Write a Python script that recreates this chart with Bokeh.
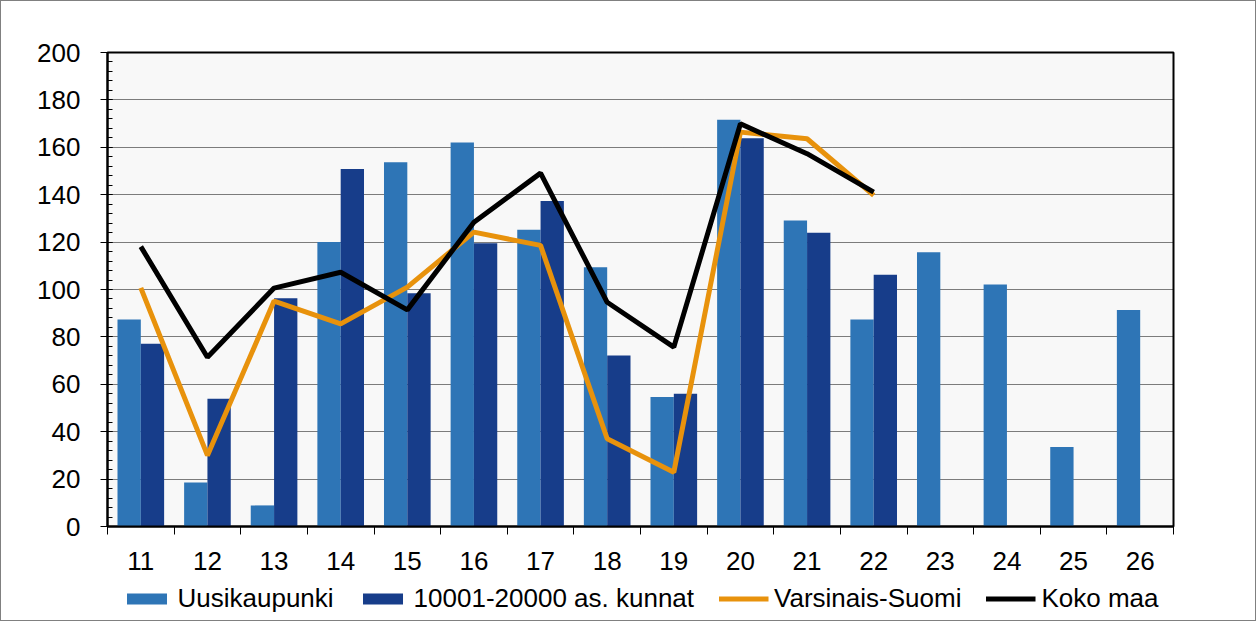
import numpy as np
from bokeh.plotting import figure
from bokeh.layouts import column
from bokeh.models import Range1d, FixedTicker, Legend, LegendItem
from bokeh.embed import file_html
from bokeh.resources import INLINE

categories = ["11", "12", "13", "14", "15", "16", "17", "18", "19", "20", "21", "22", "23", "24", "25", "26"]
uusikaupunki = [87.3, 18.6, 8.9, 120.0, 153.7, 162.0, 125.2, 109.4, 54.6, 171.6, 129.1, 87.3, 115.7, 102.1, 33.5, 91.3]
kunnat = [77.1, 53.9, 96.3, 150.8, 98.4, 119.5, 137.3, 72.2, 56.0, 163.8, 123.9, 106.2]
varsinais_suomi = [100.7, 30.0, 95.1, 85.5, 101.0, 124.2, 118.6, 37.0, 22.9, 166.4, 163.6, 139.7]
koko_maa = [118.1, 71.4, 100.6, 107.3, 91.4, 128.4, 149.1, 94.6, 75.7, 169.9, 157.3, 141.1]
y_ticks = list(range(0, 201, 20))
series_names = ["Uusikaupunki", "10001-20000 as. kunnat", "Varsinais-Suomi", "Koko maa"]

FONT = "Liberation Sans"
C_LIGHT, C_DARK, C_ORANGE, C_BLACK = "#2E75B6", "#173D8A", "#E8920C", "black"
n = len(categories)
centers = np.arange(n) + 0.5
bw = 0.35


def draw_series(fig):
    a = fig.vbar(x=centers - bw / 2, top=uusikaupunki, width=bw, fill_color=C_LIGHT, line_color=None)
    b = fig.vbar(x=centers[:len(kunnat)] + bw / 2, top=kunnat, width=bw, fill_color=C_DARK, line_color=None)
    c = fig.line(x=centers[:len(varsinais_suomi)], y=varsinais_suomi, line_color=C_ORANGE, line_width=5)
    d = fig.line(x=centers[:len(koko_maa)], y=koko_maa, line_color=C_BLACK, line_width=5)
    return [a, b, c, d]


p = figure(frame_width=1066, frame_height=474,
           x_range=Range1d(0, n), y_range=Range1d(0, 200),
           output_backend="svg", toolbar_location=None,
           min_border_left=106, min_border_top=51, min_border_right=82, min_border_bottom=50,
           background_fill_color="#F8F8F8", border_fill_color="white")
draw_series(p)

# y axis
ya = p.yaxis[0]
ya.ticker = FixedTicker(ticks=y_ticks, minor_ticks=list(range(0, 201, 4)))
ya.major_tick_in = 5
ya.major_tick_out = 7
ya.minor_tick_in = 5
ya.minor_tick_out = 0
ya.axis_line_width = 2
ya.axis_line_color = "black"
ya.major_tick_line_color = "black"
ya.minor_tick_line_color = "black"
ya.major_label_standoff = 20
ya.major_label_text_font = FONT
ya.major_label_text_font_size = "26px"
ya.major_label_text_color = "black"

# x axis: labels at category centres, ticks (minor) at category boundaries
xa = p.xaxis[0]
xa.ticker = FixedTicker(ticks=list(centers), minor_ticks=list(range(n + 1)))
xa.major_label_overrides = {float(c): lab for c, lab in zip(centers, categories)}
xa.major_tick_line_color = None
xa.major_tick_in = 0
xa.major_tick_out = 0
xa.minor_tick_in = 0
xa.minor_tick_out = 8
xa.minor_tick_line_color = "black"
xa.minor_tick_line_width = 1
xa.axis_line_width = 2
xa.axis_line_color = "black"
xa.major_label_standoff = 17
xa.major_label_text_font = FONT
xa.major_label_text_font_size = "26px"
xa.major_label_text_color = "black"

# grid
p.xgrid.visible = False
p.ygrid.ticker = FixedTicker(ticks=y_ticks[1:-1])
p.ygrid.grid_line_color = "black"
p.ygrid.grid_line_dash = "1 1"
p.ygrid.grid_line_width = 1

p.outline_line_color = "black"
p.outline_line_width = 2
p.outline_line_alpha = 1

# legend strip: same series drawn far out of view, only the legend swatches show
pl = figure(width=1254, height=44, x_range=Range1d(1000, 1001), y_range=Range1d(1000, 1001),
            output_backend="svg", toolbar_location=None, min_border=0,
            outline_line_color=None, border_fill_color="white", background_fill_color="white")
pl.axis.visible = False
pl.grid.visible = False
lr = draw_series(pl)
legend = Legend(items=[LegendItem(label=s, renderers=[g]) for s, g in zip(series_names, lr)],
                orientation="horizontal", location="center",
                glyph_width=50, glyph_height=14, label_standoff=6, spacing=24,
                label_text_font=FONT, label_text_font_size="26px", label_text_color="black",
                label_height=26, border_line_color=None, background_fill_alpha=0,
                padding=0, margin=0)
pl.add_layout(legend)

layout = column(p, pl, spacing=0, styles={"border": "1px solid #808080"})

open("out.html", "w").write(file_html(layout, INLINE))
